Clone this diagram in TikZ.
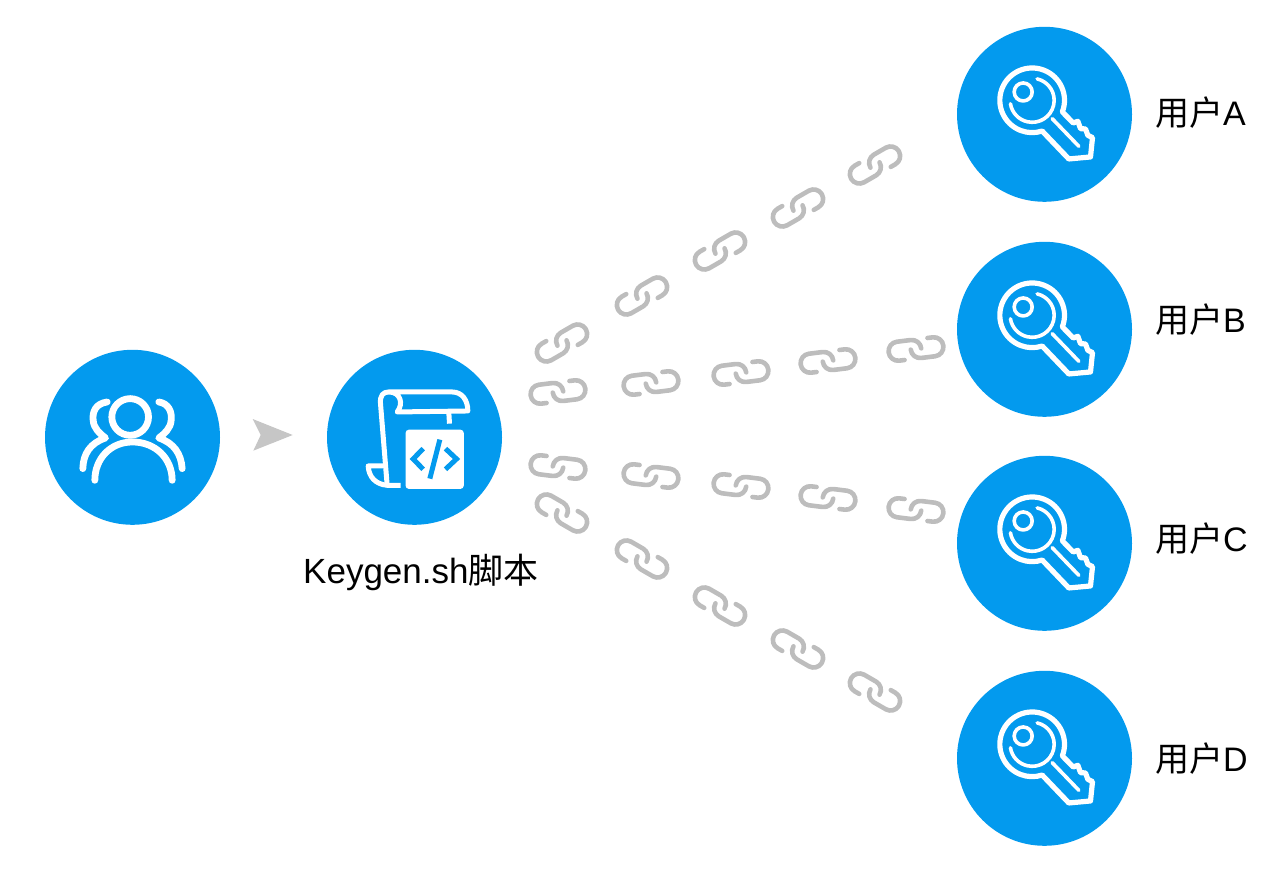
\documentclass[tikz,border=0pt]{standalone}
\usepackage{fontspec}
\setmainfont{Liberation Sans}
\newfontfamily\cjk{Noto Sans CJK SC}
\definecolor{dotblue}{HTML}{039AEE}
\definecolor{linkgrey}{HTML}{BDBDBD}
\definecolor{arrowgrey}{HTML}{C6C6C6}
\tikzset{
  disc/.style={circle,fill=dotblue,draw=none,minimum size=175pt,inner sep=0pt},
  label text/.style={text=black,inner sep=0pt,font=\fontsize{34}{40}\selectfont},
  title text/.style={text=black,inner sep=0pt,font=\fontsize{35}{40}\selectfont},
  iconline/.style={draw=white,line cap=round,line join=round,fill=none},
  linkline/.style={draw=linkgrey,line width=4.6pt,line cap=round,line join=round,fill=none},
  chainlink/.pic={
    \begin{scope}[scale=1.06]
    \draw[linkline] (-12,9) -- (-17,9) .. controls (-22,9) and (-26,5) .. (-26,0)
      .. controls (-26,-5) and (-22,-9) .. (-17,-9) -- (-4,-9)
      .. controls (1,-9) and (5,-5) .. (5,0);
    \draw[linkline] (12,-9) -- (17,-9) .. controls (22,-9) and (26,-5) .. (26,0)
      .. controls (26,5) and (22,9) .. (17,9) -- (4,9)
      .. controls (-1,9) and (-5,5) .. (-5,0);
    \end{scope}
  },
  keyicon/.pic={
    \begin{scope}[yscale=-1,shift={(-64,-64)},scale=1/3]
      \draw[iconline,line width=5.2pt] (155,150) ++(21:97) arc[start angle=21,end angle=-288,radius=97]
        -- (265,326) -- (330,320) -- (336,262) -- (322,255) -- (315,236) -- (300,235)
        -- (292,213) -- (278,218) -- cycle;
      \draw[iconline,line width=3.6pt] (155,150) ++(-77:66) arc[start angle=-77,end angle=171,radius=66];
      \draw[iconline,line width=3.6pt] (128,125) circle[radius=27];
      \draw[iconline,line width=3.6pt] (215,205) -- (295,288);
    \end{scope}
  },
  usersicon/.pic={
    \begin{scope}[yscale=-1,shift={(-72,-67)},scale=1/3]
      \draw[iconline,line width=6.8pt] (209,140) circle[radius=55];
      \draw[iconline,line width=6.8pt] (103,330) .. controls (103,265) and (150,215) .. (216,215)
        .. controls (285,215) and (335,265) .. (335,330);
      \draw[iconline,line width=6.8pt] (140,95) .. controls (105,100) and (95,125) .. (98,150)
        .. controls (100,175) and (118,190) .. (135,203) .. controls (90,218) and (68,250) .. (67,295);
      \draw[iconline,line width=6.8pt] (295,95) .. controls (325,100) and (335,125) .. (332,150)
        .. controls (330,175) and (312,190) .. (295,203) .. controls (340,218) and (362,250) .. (365,295);
    \end{scope}
  },
  scripticon/.pic={
    \begin{scope}[yscale=-1,shift={(-64,-67)},scale=1/3]
      \draw[iconline,line width=5pt,line cap=butt,line join=round]
        (150,345) -- (110,345) .. controls (75,342) and (55,320) .. (53,287) -- (98,287);
      \draw[iconline,line width=5pt,line cap=butt]
        (110,345) -- (90,100) .. controls (88,75) and (98,65) .. (115,65) -- (305,65)
        .. controls (335,65) and (352,90) .. (352,122) -- (140,125)
        .. controls (160,100) and (150,65) .. (115,65);
      \draw[iconline,line width=5pt,line cap=butt] (295,128) -- (297,160);
      \fill[white,rounded corners=3.5pt] (165,178) rectangle (340,356);
      \draw[draw=dotblue,line width=5pt,fill=none,line join=miter] (218,235) -- (188,266) -- (218,297);
      \draw[draw=dotblue,line width=5pt,fill=none,line join=miter] (285,235) -- (318,266) -- (285,297);
      \draw[draw=dotblue,line width=5pt,fill=none] (268,208) -- (238,325);
    \end{scope}
  },
}
\begin{document}
\begin{tikzpicture}[x=1pt,y=1pt,yscale=-1]
  \useasboundingbox (0,0) rectangle (1285,874);
  \node[disc] (users) at (132.5,437.3) {};
  \node[disc] (script) at (414.5,437.3) {};
  \node[disc] (keyA) at (1044.5,114.3) {};
  \node[disc] (keyB) at (1044.5,329.3) {};
  \node[disc] (keyC) at (1044.5,543.3) {};
  \node[disc] (keyD) at (1044.5,758.3) {};
  \pic at (users.center) {usersicon};
  \pic at (script.center) {scripticon};
  \foreach \k in {keyA,keyB,keyC,keyD} { \pic at (\k.center) {keyicon}; }
  \fill[arrowgrey] (252.7,419) -- (292.7,435) -- (253.3,450.7) -- (260.7,435) -- cycle;
  \foreach \x/\y in {562/343,642/296,720/251,798/208,875/165} {
    \pic[rotate=30] at (\x,\y) {chainlink};
  }
  \foreach \x/\y in {558/392,651/383,741/373,828/361,916/349} {
    \pic[rotate=7,yscale=-1] at (\x,\y) {chainlink};
  }
  \foreach \x/\y in {558/467,651/476,741/486,828/498,916/510} {
    \pic[rotate=-7] at (\x,\y) {chainlink};
  }
  \foreach \x/\y in {562/513,642/559,720/606,798/649,875/692} {
    \pic[rotate=-30,yscale=-1] at (\x,\y) {chainlink};
  }
  \node[title text,anchor=base west] (scriptlabel) at (303,583) {Keygen.sh{\cjk 脚本}};
  \node[label text,anchor=base west] (labelA) at (1155,126) {{\cjk 用户}A};
  \node[label text,anchor=base west] (labelB) at (1155,333) {{\cjk 用户}B};
  \node[label text,anchor=base west] (labelC) at (1155,551) {{\cjk 用户}C};
  \node[label text,anchor=base west] (labelD) at (1155,771) {{\cjk 用户}D};
\end{tikzpicture}
\end{document}
